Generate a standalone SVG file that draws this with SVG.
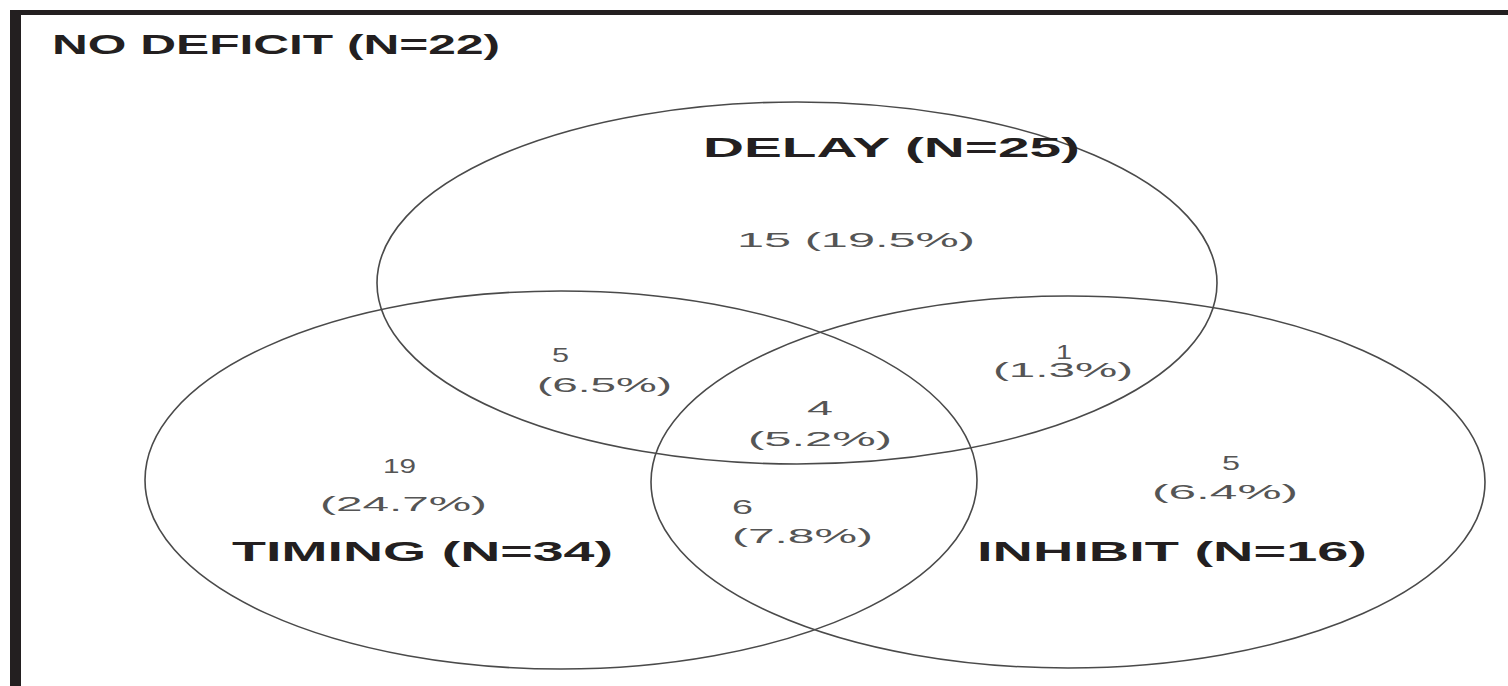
<svg xmlns="http://www.w3.org/2000/svg" width="1508" height="686" viewBox="0 0 1508 686">
<style>
.set{fill:none;stroke:#4a4a4a;stroke-width:1.6}
.b{font-family:"Liberation Sans",Arial,sans-serif;font-weight:bold;font-size:27px;fill:#231f20}
.r{font-family:"Liberation Sans",Arial,sans-serif;font-size:21px;fill:#555}
</style>
<rect x="0" y="0" width="1508" height="686" fill="#fff"/>
<g id="frame">
<rect x="10" y="10" width="1498" height="5" fill="#231f20"/>
<rect x="10" y="10" width="11" height="676" fill="#231f20"/>
</g>
<g id="no-deficit"><text class="b" x="52" y="54" textLength="448" lengthAdjust="spacingAndGlyphs">NO DEFICIT (N=22)</text></g>
<g id="connectors">
<ellipse id="delay-set" class="set" cx="797" cy="283" rx="420" ry="181"/>
<ellipse id="timing-set" class="set" cx="561" cy="480" rx="416" ry="189"/>
<ellipse id="inhibit-set" class="set" cx="1068" cy="482" rx="417" ry="186"/>
</g>
<g id="delay"><text class="b" x="703" y="157" textLength="377" lengthAdjust="spacingAndGlyphs">DELAY (N=25)</text></g>
<g id="timing"><text class="b" x="232" y="561" textLength="381" lengthAdjust="spacingAndGlyphs">TIMING (N=34)</text></g>
<g id="inhibit"><text class="b" x="977" y="561" textLength="390" lengthAdjust="spacingAndGlyphs">INHIBIT (N=16)</text></g>
<g id="delay-only"><text class="r" x="737" y="247" textLength="238" lengthAdjust="spacingAndGlyphs">15 (19.5%)</text></g>
<g id="delay-timing"><text class="r" x="552" y="362" textLength="17" lengthAdjust="spacingAndGlyphs">5</text><text class="r" x="537" y="392" textLength="135" lengthAdjust="spacingAndGlyphs">(6.5%)</text></g>
<g id="delay-inhibit"><text class="r" x="1056" y="359" textLength="16" lengthAdjust="spacingAndGlyphs">1</text><text class="r" x="993" y="377" textLength="140" lengthAdjust="spacingAndGlyphs">(1.3%)</text></g>
<g id="all-three"><text class="r" x="807" y="415" textLength="26" lengthAdjust="spacingAndGlyphs">4</text><text class="r" x="748" y="446" textLength="144" lengthAdjust="spacingAndGlyphs">(5.2%)</text></g>
<g id="timing-only"><text class="r" x="383" y="473" textLength="33" lengthAdjust="spacingAndGlyphs">19</text><text class="r" x="320" y="511" textLength="167" lengthAdjust="spacingAndGlyphs">(24.7%)</text></g>
<g id="timing-inhibit"><text class="r" x="732" y="514" textLength="21" lengthAdjust="spacingAndGlyphs">6</text><text class="r" x="732" y="543" textLength="141" lengthAdjust="spacingAndGlyphs">(7.8%)</text></g>
<g id="inhibit-only"><text class="r" x="1222" y="470" textLength="18" lengthAdjust="spacingAndGlyphs">5</text><text class="r" x="1152" y="499" textLength="146" lengthAdjust="spacingAndGlyphs">(6.4%)</text></g>
</svg>
